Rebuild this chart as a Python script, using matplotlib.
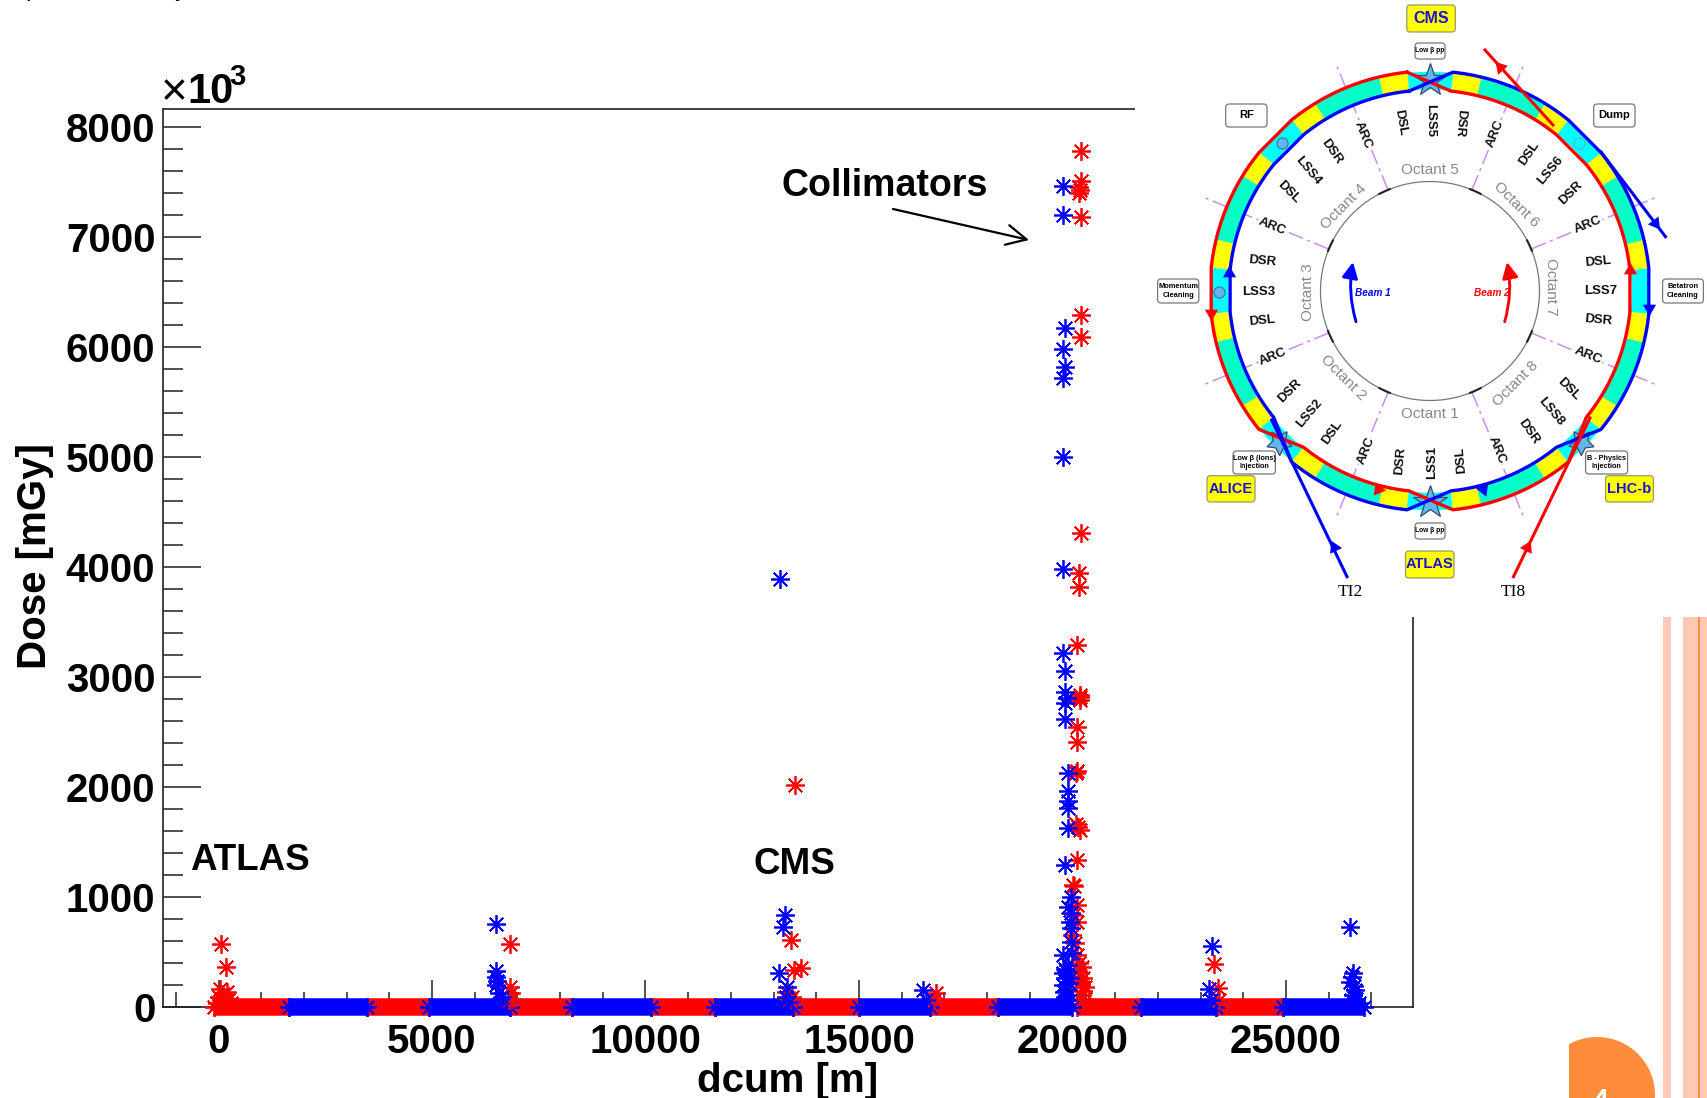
import numpy as np
import matplotlib
matplotlib.use("Agg")
import matplotlib.pyplot as plt
from matplotlib.patches import Rectangle, FancyBboxPatch, Circle, Polygon, FancyArrowPatch
from matplotlib.ticker import MultipleLocator

# ---------- data ----------
red_band_start = [-100, 3480, 6820, 10120, 13450, 16670, 20100, 23360]
red_band_end = [1640, 4930, 8270, 11620, 15000, 18250, 21600, 24930]
blue_band_start = [1640, 4930, 8270, 11620, 15000, 18250, 21600, 24930]
blue_band_end = [3480, 6820, 10120, 13450, 16670, 19990, 23360, 26820]

blue_x = [19785, 19785, 19832, 19785, 19832, 19785, 19785, 19785,
          19785, 19832, 19832, 19864, 19832, 19832, 19887, 19887, 19887, 19887, 19887, 19832,
          13160, 19957, 19902, 19957, 19941, 19957, 19957, 19785, 19981, 19785, 19832, 19785, 19864, 19832,
          19900, 19850, 19950, 19800, 19880, 19820, 19930, 19870,
          6497, 6497, 6497, 6497, 6520, 6650, 6560, 6600,
          13260, 13225, 13130, 13320, 13280, 13350,
          16500, 16560,
          23270, 23200, 23240,
          26490, 26580, 26490, 26540, 26620, 26560, 26600, 26640, 26700, 26520]
blue_y = [7464, 7200, 6176, 5982, 5821, 5718, 5003, 3985,
          3221, 3058, 2866, 2808, 2763, 2621, 2125, 1967, 1873, 1808, 1630, 1291,
          3890, 1003, 912, 855, 776, 718, 594, 473, 489, 309, 264, 200, 155, 94,
          380, 330, 260, 140, 60, 350, 220, 110,
          755, 330, 275, 200, 240, 94, 130, 70,
          836, 730, 312, 182, 90, 50,
          155, 60,
          557, 164, 60,
          727, 309, 230, 270, 155, 110, 190, 70, 40, 60]

red_x = [20199, 20199, 20160, 20176, 20160, 20199, 20199, 20199, 20199, 20160, 20160,
         20113, 20176, 20176, 20176, 20113, 20113, 20113, 20082, 20082, 20137, 20176, 20113,
         20020, 20035, 20113, 20004, 20098, 19981, 20058, 20113, 20215, 20176, 20254, 20293, 20215,
         20150, 20200, 20250, 20130, 20240, 20180,
         58, 165, 40, 200, 100, 20, 70, 130, 230, 300, -30, 160,
         6830, 6830, 6860, 6880, 6800,
         13495, 13400, 13475, 13640, 13300, 13420, 13380,
         16810, 16760,
         23310, 23400, 23420,
         ]
red_y = [7785, 7512, 7455, 7427, 7400, 7180, 6291, 6090, 4306, 3948, 3821,
         3294, 2836, 2815, 2790, 2545, 2412, 2148, 2125, 1664, 1635, 1609, 1336,
         1109, 1100, 927, 836, 776, 655, 582, 473, 367, 309, 264, 185, 109,
         400, 220, 70, 330, 150, 240,
         576, 367, 161, 139, 120, 90, 60, 70, 60, 40, 40, 30,
         573, 185, 127, 70, 60,
         2018, 609, 336, 354, 140, 90, 60,
         130, 60,
         391, 173, 60,
         ]

x_major_ticks = [0, 5000, 10000, 15000, 20000, 25000]
y_major_ticks = [0, 1000, 2000, 3000, 4000, 5000, 6000, 7000, 8000]
x_label = "dcum [m]"
y_label = "Dose [mGy]"

octant_names = ["Octant 1", "Octant 2", "Octant 3", "Octant 4",
                "Octant 5", "Octant 6", "Octant 7", "Octant 8"]
octant_pos = [(1430, 414), (1343.5, 378), (1308.5, 291.7), (1343.5, 206.7),
              (1430, 170), (1516.5, 205), (1551, 287), (1516, 384)]
octant_rot = [0, -45, 90, 45, 0, -45, -90, 45]

section_names = ["LSS5", "DSL", "DSR", "ARC", "ARC", "DSR", "LSS4", "DSL", "ARC", "DSR", "LSS3", "DSL",
                 "DSL", "LSS6", "DSR", "ARC", "DSL", "LSS7", "DSR",
                 "ARC", "DSR", "LSS2", "DSL", "ARC", "DSR", "LSS1", "DSL", "ARC",
                 "DSR", "LSS8", "DSL", "ARC"]
section_pos = [(1430, 120), (1400, 122.7), (1460, 122.7), (1363, 135), (1495.7, 134),
               (1331.7, 151.7), (1308.5, 170.7), (1289, 192.7), (1271.7, 226.7), (1261.8, 261.7),
               (1258.8, 292.3), (1261.8, 321),
               (1529.3, 153.3), (1550.3, 170), (1570.6, 192.7), (1588.2, 225), (1598, 261.7),
               (1601, 290.7), (1598, 320.7),
               (1272.8, 356.7), (1290, 390.7), (1309.6, 413.3), (1332.4, 432.7),
               (1366, 450.7), (1400, 460.7), (1431.7, 462.7), (1460.7, 460), (1496.7, 450),
               (1528.2, 431.7), (1551.4, 411.7), (1568.7, 389.3), (1588.2, 356)]
section_rot = [-90, -80, -95, -68, 68, -55, -50, -45, -22, -5, 0, 5,
               55, 50, 45, 22, 5, 0, -5,
               22, 45, 50, 55, 68, 85, 90, 95, -68, -55, -50, -45, -22]

W, H = 1707, 1098
bold = ["Liberation Sans", "DejaVu Sans"]
narrow = ["Liberation Sans Narrow", "Liberation Sans", "DejaVu Sans"]
plt.rcParams["font.family"] = bold
plt.rcParams["font.weight"] = "bold"

fig = plt.figure(figsize=(W / 100, H / 100), dpi=100, facecolor="white")
ax = fig.add_axes([163 / W, (H - 1007) / H, (1413 - 163) / W, (1007 - 109.3) / H])
ax.set_xlim(-1300, 27975)
ax.set_ylim(0, 8161)
ax.patch.set_alpha(0)
for s in ax.spines.values():
    s.set_linewidth(1.2)
    s.set_color("#222222")
ax.xaxis.set_minor_locator(MultipleLocator(1000))
ax.yaxis.set_minor_locator(MultipleLocator(200))
ax.set_xticks(x_major_ticks)
ax.set_yticks(y_major_ticks)
ax.tick_params(axis="x", which="major", direction="in", length=19.4, width=1.1, labelsize=29, pad=11.5, color="#222222")
ax.tick_params(axis="x", which="minor", direction="in", length=10.8, width=1.1, color="#222222")
ax.tick_params(axis="y", which="major", direction="in", length=27, width=1.1, labelsize=29, pad=5.5, color="#222222")
ax.tick_params(axis="y", which="minor", direction="in", length=14.4, width=1.1, color="#222222")


def band(starts, ends, color):
    ax.hlines([0] * len(starts), starts, ends, colors=color, linewidth=12.6,
              capstyle="butt", clip_on=False, zorder=3)
    ends_x = list(starts) + list(ends)
    ax.plot(ends_x, [0] * len(ends_x), ls="none", marker=(8, 2, 0), ms=13.5, mew=1.3,
            color=color, clip_on=False, zorder=3)


def stars(x, y, color):
    ax.plot(x, y, ls="none", marker=(8, 2, 0), ms=13.5, mew=1.25, color=color, clip_on=False, zorder=4)
    ax.plot(x, y, ls="none", marker="o", ms=3.6, mew=0, color=color, clip_on=False, zorder=4)


band(red_band_start, red_band_end, "#ff0000")
band(blue_band_start, blue_band_end, "#0000ff")
stars(red_x, red_y, "#ff0000")
stars(blue_x, blue_y, "#0000ff")

# ---------- overlay in pixel coordinates ----------
ov = fig.add_axes([0, 0, 1, 1], facecolor="none")
ov.set_xlim(0, W)
ov.set_ylim(H, 0)
ov.axis("off")
ov.add_patch(Rectangle((1135, 0), W - 1135, 617, fc="white", ec="none", zorder=1))


def T(x, y, s, **kw):
    kw.setdefault("ha", "center")
    kw.setdefault("va", "center")
    kw.setdefault("zorder", 8)
    return ov.text(x, y, s, **kw)


T(35, 556, y_label, fontsize=29, rotation=90)
T(788, 1081, x_label, fontsize=29)
T(190, 861, "ATLAS", fontsize=26.5, ha="left")
T(794.7, 865, "CMS", fontsize=26.5)
T(781.6, 185.5, "Collimators", fontsize=27, ha="left")
ov.add_patch(FancyArrowPatch((893, 209), (1029, 240), arrowstyle="->,head_length=12,head_width=6",
                             lw=1.6, color="black", shrinkA=0, shrinkB=0, mutation_scale=1.2, zorder=8))
T(161, 93, "×", fontsize=33, weight="normal", ha="left")
T(187, 92, "10", fontsize=30, ha="left")
T(229, 77, "3", fontsize=21, ha="left")
T(32, -11, "p", fontsize=18, weight="normal", clip_on=False)
T(181, -11, "y", fontsize=18, weight="normal", clip_on=False)

# right-hand decoration
for x0, x1, c in [(1663, 1671, "#ffc9b5"), (1683, 1698, "#ffc9b5"), (1698, 1700, "#ff8c3a"), (1700, W, "#ffc9b5")]:
    ov.add_patch(Rectangle((x0, 617), x1 - x0, H - 617, fc=c, ec="none", zorder=2))
clip = Rectangle((1569, 1000), 120, 98, transform=ov.transData)
circ = Circle((1597, 1095), 58, fc="#ff8c3a", ec="none", zorder=2)
ov.add_patch(circ)
circ.set_clip_path(clip)
T(1600, 1107, "4", fontsize=30, color="white", weight="normal", zorder=3)

# LHC ring
cx, cy = 1430, 291
Ro, Ri = 220, 201


def pol(r, deg):
    a = np.deg2rad(deg)
    return cx + r * np.cos(a), cy - r * np.sin(a)


def seg(a0, a1, color):
    aa = np.linspace(a0, a1, 20)
    xo, yo = pol(Ro - 1, aa)
    xi, yi = pol(Ri + 1, aa[::-1])
    ov.add_patch(Polygon(np.column_stack([np.r_[xo, xi], np.r_[yo, yi]]), fc=color, ec=color, lw=0.3, zorder=3))


for k in range(8):
    c0 = k * 45
    seg(c0 - 6, c0 + 6, "#00ffff")
    seg(c0 + 6, c0 + 13.5, "#ffff00")
    seg(c0 + 13.5, c0 + 31.5, "#05ffc8")
    seg(c0 + 31.5, c0 + 39, "#ffff00")


def beam(color, left_outer):
    """Beam trace: it changes sides at the crossings at 90, 225, 270 and 315 degrees."""
    crossings = [90, 225, 270, 315, 450]
    outer = left_outer
    xs, ys = [], []
    for a0, a1 in zip(crossings[:-1], crossings[1:]):
        r = Ro if outer else Ri
        for a in np.arange(a0 + 6, a1 - 5.9, 1.0):
            if any(abs(a - c) < 6 for c in (135, 180, 360, 405)):
                continue
            x, y = pol(r, a)
            xs.append(x)
            ys.append(y)
        outer = not outer
    xs.append(xs[0])
    ys.append(ys[0])
    ov.plot(xs, ys, color=color, lw=2.4, zorder=5, solid_joinstyle="round")


beam("#ff0000", True)
beam("#0000ff", False)

# dash-dot octant dividers and inner circle
for a in np.arange(22.5, 360, 45):
    x0, y0 = pol(110, a)
    x1, y1 = pol(245, a)
    ov.plot([x0, x1], [y0, y1], color="#cf8cf0", lw=1.1, ls=(0, (10, 3, 2, 3)), zorder=2.5)
    aa = np.linspace(a - 1, a + 5, 6) if int((a - 22.5) / 45) % 2 == 0 else np.linspace(a - 5, a + 1, 6)
    xs, ys = pol(109.5, aa)
    ov.plot(xs, ys, color="#222222", lw=1.5, zorder=4)
aa = np.linspace(0, 360, 361)
xs, ys = pol(109.5, aa)
ov.plot(xs, ys, color="#777777", lw=0.9, zorder=3.5)

for (x, y), s, r in zip(section_pos, section_names, section_rot):
    T(x, y, s, fontsize=9.5, family=narrow, rotation=r, rotation_mode="anchor", color="#111111",
      bbox=dict(fc="white", ec="none", pad=0.5))
for (x, y), s, r in zip(octant_pos, octant_names, octant_rot):
    T(x, y, s, fontsize=11, family=narrow, weight="normal", rotation=r, rotation_mode="anchor", color="#888888")

# stars and small circles
for x, y, m in [(1430, 80, "*"), (1430, 501.7, "*"), (1279, 441.7, (5, 1, -35)), (1581, 441.7, (5, 1, 35))]:
    ov.plot([x], [y], marker=m, ms=25 if m == "*" else 19, mfc="#62b6ee", mec="#3b4b66", mew=0.9, zorder=4.5, ls="none")
for x, y in [(1281.6, 142.7), (1219.4, 291.7)]:
    ov.plot([x], [y], marker="o", ms=8, mfc="#62b6ee", mec="#3b6b86", mew=0.7, zorder=6, ls="none")
ov.plot([1579], [142.7], marker="o", ms=8, mfc="none", mec="#55aacc", mew=0.7, zorder=6, ls="none")

# transfer lines and dump lines
for (x0, y0, x1, y1, c) in [(1347, 576.7, 1271.7, 420, "#0000ff"), (1513.5, 576.7, 1590, 418, "#ff0000"),
                            (1485, 50, 1553, 125, "#ff0000"), (1601, 152, 1665.5, 236.7, "#0000ff")]:
    ov.plot([x0, x1], [y0, y1], color=c, lw=2.2, zorder=5.5)
for x, y, ang, c in [(1334, 546.7, 25.5, "#0000ff"), (1527, 546.7, -26, "#ff0000"),
                     (1500, 66.7, 42, "#ff0000"), (1654.5, 223, 217, "#0000ff"),
                     (1229.4, 272.7, 0, "#0000ff"), (1211, 313, 180, "#ff0000"),
                     (1630, 270, 0, "#ff0000"), (1649, 308, 180, "#0000ff"),
                     (1378.4, 489.3, 262, "#ff0000"), (1483, 489.3, 82, "#0000ff")]:
    ov.plot([x], [y], marker=(3, 0, ang), ms=11, color=c, mew=0, zorder=6, ls="none")

# beam arrows inside the ring
ov.add_patch(FancyArrowPatch((1356, 321.7), (1353, 262), connectionstyle="arc3,rad=-0.12",
                             arrowstyle="-|>,head_length=9,head_width=4.5", color="#0000ff", lw=2.1,
                             mutation_scale=1.05, shrinkA=0, shrinkB=0, zorder=6))
ov.add_patch(FancyArrowPatch((1504.7, 321.7), (1507, 262), connectionstyle="arc3,rad=0.12",
                             arrowstyle="-|>,head_length=9,head_width=4.5", color="#ff0000", lw=2.1,
                             mutation_scale=1.05, shrinkA=0, shrinkB=0, zorder=6))
T(1373, 293.3, "Beam 1", fontsize=7.2, family=narrow, style="italic", color="#0000ff")
T(1491.4, 293.3, "Beam 2", fontsize=7.2, family=narrow, style="italic", color="#ff0000")

T(1350, 591.7, "TI2", fontsize=12.5, family=["Liberation Serif"], weight="normal")
T(1513.5, 591.7, "TI8", fontsize=12.5, family=["Liberation Serif"], weight="normal")


def box(x0, y0, x1, y1, s, fs, fc="white", ec="#777777", color="black", lw=0.9):
    ov.add_patch(FancyBboxPatch((x0 + 2, y0 + 2), x1 - x0 - 4, y1 - y0 - 4,
                                boxstyle="round,pad=2,rounding_size=3.5", fc=fc, ec=ec, lw=lw, zorder=7))
    T((x0 + x1) / 2, (y0 + y1) / 2, s, fontsize=fs, family=narrow, color=color, linespacing=1.25)


box(1225.7, 104, 1267, 127, "RF", 8)
box(1593.7, 104, 1635, 127, "Dump", 8)
box(1157.6, 279, 1198.8, 303, "Momentum\nCleaning", 5.4)
box(1662.6, 279, 1703.4, 303, "Betatron\nCleaning", 5.4)
box(1415, 43, 1445, 59, "Low β pp", 4.8)
box(1415, 523, 1445, 539, "Low β pp", 4.8)
box(1233, 451, 1275.4, 474, "Low β (Ions)\nInjection", 5.2)
box(1585.6, 451, 1627.6, 474, "B - Physics\nInjection", 5.2)
for x0, y0, x1, y1, s, fs in [(1406.8, 5, 1455.3, 32, "CMS", 11.5), (1405.5, 551, 1454, 578, "ATLAS", 10.5),
                              (1207, 475.7, 1255, 502, "ALICE", 10.5), (1605.5, 475.7, 1653.4, 502, "LHC-b", 10.5)]:
    box(x0, y0, x1, y1, s, fs, fc="#ffff00", ec="#999966", color="#1a10d8")

fig.savefig("out.png", dpi=100)
